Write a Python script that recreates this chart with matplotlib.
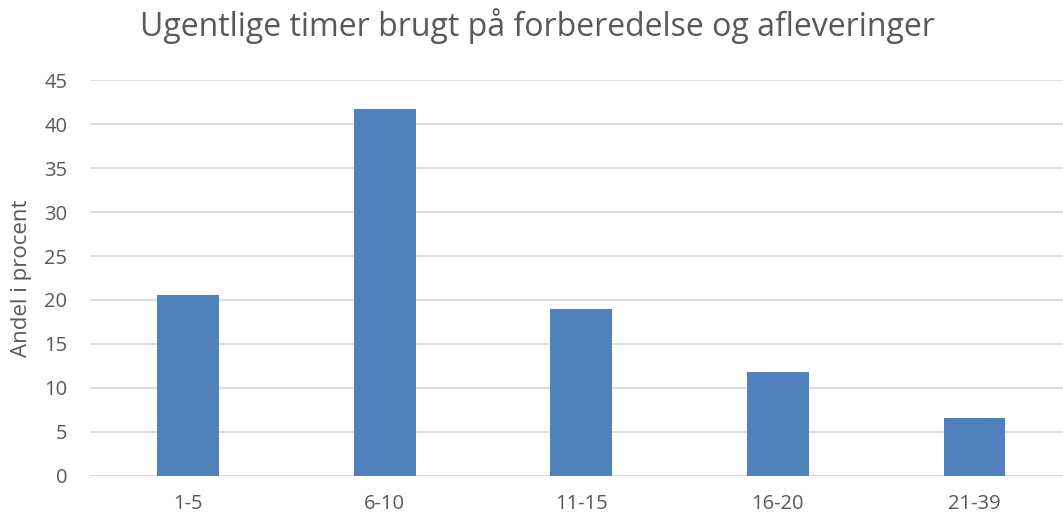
import matplotlib
matplotlib.use("Agg")
import matplotlib.pyplot as plt

categories = ["1-5", "6-10", "11-15", "16-20", "21-39"]
shares = [20.6, 41.7, 19.0, 11.8, 6.6]
yticks = [0, 5, 10, 15, 20, 25, 30, 35, 40, 45]

TEXT = "#595959"
plt.rcParams["font.family"] = ["Open Sans", "DejaVu Sans"]

W, H = 1063, 519
fig = plt.figure(figsize=(W / 100, H / 100), dpi=100)
# axes box in pixel coords: left 89.7, bottom at y=475.7, top at y=80.3
left, right = 89.7, 1063
top, bottom = 80.3, 475.7
ax = fig.add_axes([left / W, 1 - bottom / H, (right - left) / W, (bottom - top) / H])

ax.bar(range(len(categories)), shares, width=0.315, color="#4f81bd", zorder=3)

ax.set_xlim(-0.5, 4.45)
ax.set_ylim(0, 45)
ax.set_yticks(yticks)
ax.set_xticks(range(len(categories)))
ax.set_xticklabels(categories)
ax.grid(axis="y", color="#d9d9d9", linewidth=1.3, zorder=0)
for s in ax.spines.values():
    s.set_visible(False)
ax.tick_params(length=0, colors=TEXT, labelsize=14.5)
ax.tick_params(axis="x", pad=13)
ax.tick_params(axis="y", pad=16)
ax.set_ylabel("Andel i procent", color=TEXT, fontsize=16, labelpad=9)

fig.text(537 / W, 1 - 26 / H, "Ugentlige timer brugt på forberedelse og afleveringer",
         ha="center", va="center", color=TEXT, fontsize=23)

fig.savefig("out.png", dpi=100)
